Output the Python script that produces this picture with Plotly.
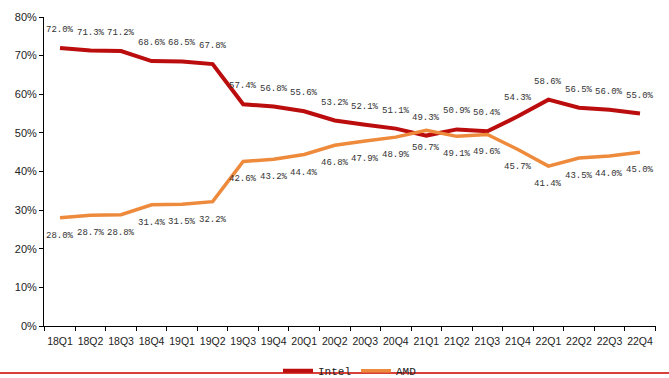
import plotly.graph_objects as go

quarters = ["18Q1", "18Q2", "18Q3", "18Q4", "19Q1", "19Q2", "19Q3", "19Q4",
            "20Q1", "20Q2", "20Q3", "20Q4", "21Q1", "21Q2", "21Q3", "21Q4",
            "22Q1", "22Q2", "22Q3", "22Q4"]
intel = [72.0, 71.3, 71.2, 68.6, 68.5, 67.8, 57.4, 56.8, 55.6, 53.2,
         52.1, 51.1, 49.3, 50.9, 50.4, 54.3, 58.6, 56.5, 56.0, 55.0]
amd = [28.0, 28.7, 28.8, 31.4, 31.5, 32.2, 42.6, 43.2, 44.4, 46.8,
       47.9, 48.9, 50.7, 49.1, 49.6, 45.7, 41.4, 43.5, 44.0, 45.0]
y_ticks = [0, 10, 20, 30, 40, 50, 60, 70, 80]

INTEL_COLOR = "#bb0d0d"
AMD_COLOR = "#ee8a3c"
LABEL_FONT = dict(family="Liberation Mono", size=9, color="#333333")

fig = go.Figure()
fig.add_trace(go.Scatter(x=quarters, y=intel, mode="lines", name="Intel",
                         line=dict(color=INTEL_COLOR, width=4)))
fig.add_trace(go.Scatter(x=quarters, y=amd, mode="lines", name="AMD",
                         line=dict(color=AMD_COLOR, width=3.5)))

# value labels: Intel above its line, AMD below its line
annotations = []
for q, v in zip(quarters, intel):
    annotations.append(dict(x=q, y=v, text=f"{v:.1f}%", showarrow=False,
                            yshift=18, font=LABEL_FONT))
for q, v in zip(quarters, amd):
    annotations.append(dict(x=q, y=v, text=f"{v:.1f}%", showarrow=False,
                            yshift=-18, font=LABEL_FONT))

fig.update_layout(
    width=669, height=378,
    margin=dict(l=44, r=13, t=17, b=52, autoexpand=False),
    paper_bgcolor="white", plot_bgcolor="white",
    showlegend=True,
    legend=dict(orientation="h", x=0.5, xanchor="center", y=-0.145,
                yanchor="middle", font=dict(family="Liberation Mono", size=11,
                                             color="#222222"),
                itemwidth=30, tracegroupgap=0, bgcolor="rgba(0,0,0,0)"),
    annotations=annotations,
    shapes=[dict(type="line", xref="paper", yref="paper", x0=-0.2, x1=1.2,
                 y0=-0.152, y1=-0.152, line=dict(color="#d9403a", width=2),
                 layer="above")],
)
fig.update_xaxes(
    type="category", showgrid=False, showline=True, linecolor="black",
    linewidth=1, ticks="outside", tickson="boundaries", ticklen=4,
    tickcolor="black", tickangle=0, automargin=False,
    tickfont=dict(family="Liberation Sans", size=10.5, color="#222222"),
    ticklabelstandoff=5,
)
fig.update_yaxes(
    range=[0, 80], tickvals=y_ticks, ticktext=[f"{t}%" for t in y_ticks],
    showgrid=False, zeroline=False, showline=True, linecolor="black",
    linewidth=1, ticks="outside", ticklen=4, tickcolor="black",
    automargin=False,
    tickfont=dict(family="Liberation Sans", size=11, color="#222222"),
)

fig.write_html("out.html")
